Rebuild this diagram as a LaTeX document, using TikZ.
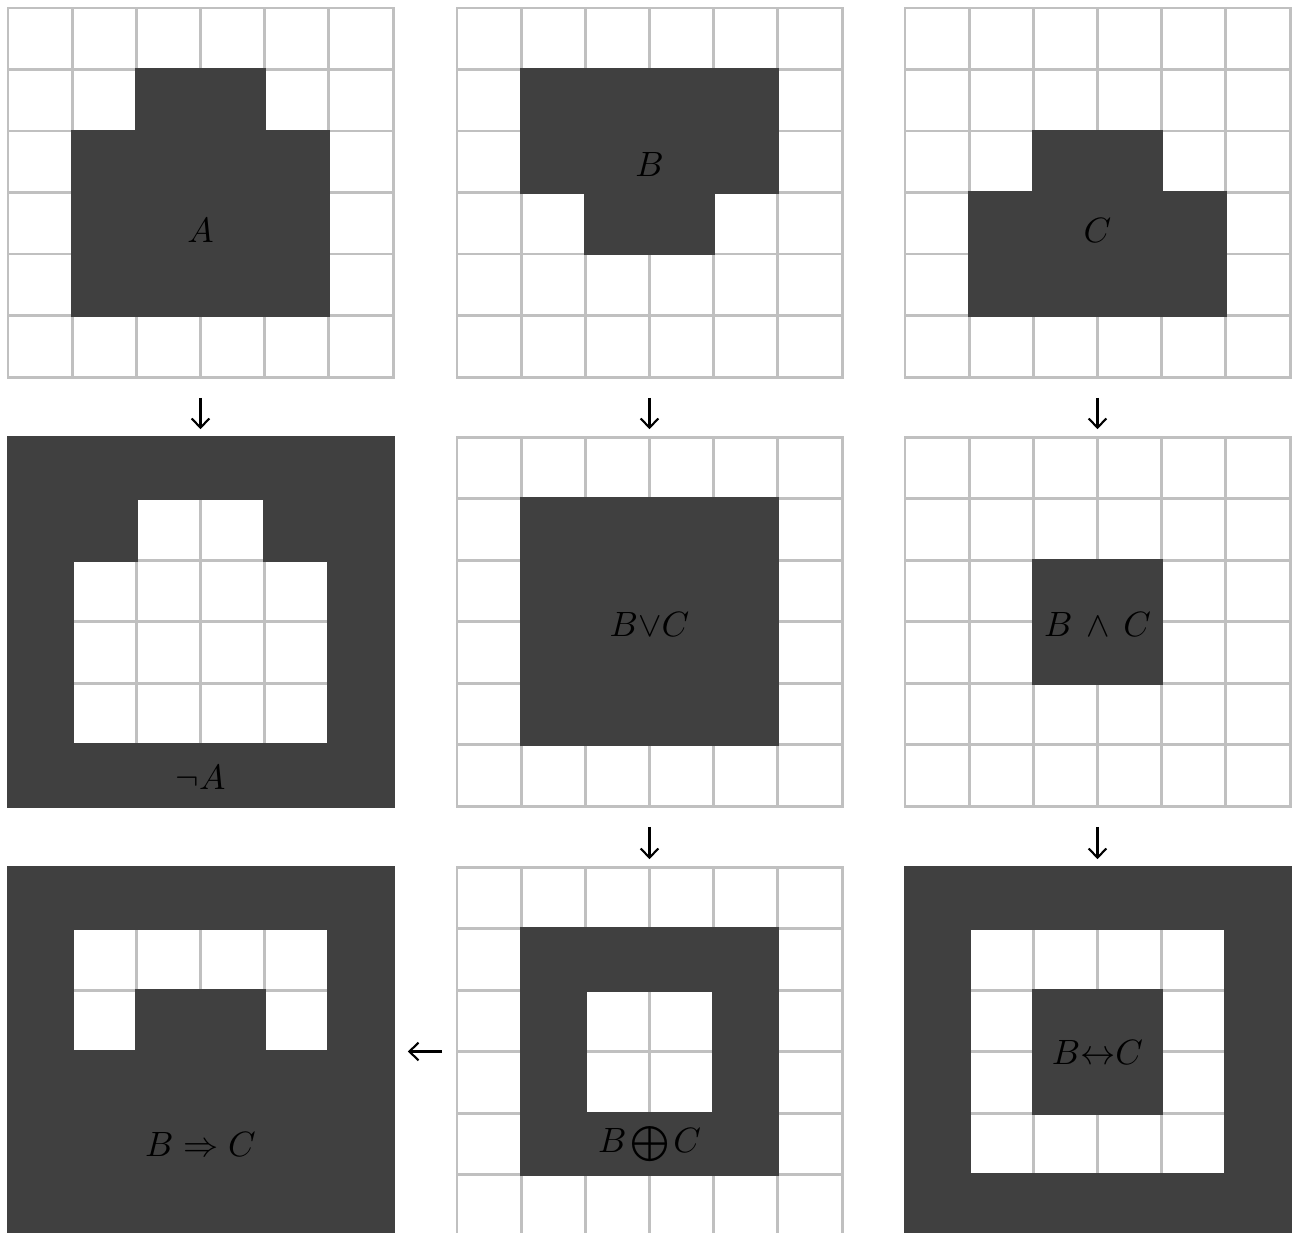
\documentclass[tikz,border=0pt]{standalone}
\usepackage{amsmath,amssymb}
\usepackage{tikz}
\usetikzlibrary{positioning, arrows.meta}
\usepackage{xcolor}
\definecolor{cellgray}{RGB}{64, 64, 64}
\definecolor{gridgray}{RGB}{192, 192, 192}

\tikzset{
  gridline/.style={draw=gridgray, line width=0.85pt, line cap=rect},
  darkcell/.style={fill=cellgray, draw=cellgray, line width=0.85pt},
  panelbox/.style={inner sep=0pt, minimum width=3.85cm, minimum height=3.69cm},
  setlabel/.style={text=black, inner sep=1pt, font=\fontsize{10}{12}\selectfont},
  flowarrow/.style={-{Straight Barb[length=2.6pt,width=5pt]}, line width=0.6pt, black},
}

% one 6x6 panel: name, origin x, origin y, dark blocks c1/r1/c2/r2, label, label y
\newcommand{\setpanel}[6]{%
  \begin{scope}[shift={(#2,#3)}]
    \node[panelbox] (#1) at (192.5,184.5) {};
    \foreach \k in {0,...,6} {
      \draw[gridline] ({\k*64.17},0) -- ({\k*64.17},369);
      \draw[gridline] (0,{\k*61.5}) -- (385,{\k*61.5});
    }
    \foreach \ca/\ra/\cb/\rb in {#4} {
      \draw[darkcell] ({\ca*64.17},{\ra*61.5}) rectangle ({\cb*64.17},{\rb*61.5});
    }
    \node[setlabel] (#1-label) at (192.5,#6) {#5};
  \end{scope}}

\begin{document}
\begin{tikzpicture}[x=0.01cm, y=-0.01cm]
  \useasboundingbox (0,0) rectangle (1296,1233);
  \clip (0,0) rectangle (1296,1233);

  % first row: the three sets
  \setpanel{pA}{8}{8}{2/1/4/2, 1/2/5/5}{$A$}{222}
  \setpanel{pB}{457}{8}{1/1/5/3, 2/3/4/4}{$B$}{156}
  \setpanel{pC}{905}{8}{2/2/4/3, 1/3/5/5}{$C$}{222}

  % second row
  \setpanel{pNotA}{8}{437}{0/0/6/1, 0/1/2/2, 4/1/6/2, 0/2/1/5, 5/2/6/5, 0/5/6/6}{$\neg A$}{340}
  \setpanel{pOr}{457}{437}{1/1/5/5}{$B{\vee}C$}{187}
  \setpanel{pAnd}{905}{437}{2/2/4/4}{$B\,\wedge\,C$}{187}

  % third row
  \setpanel{pImp}{8}{867}{0/0/6/1, 0/1/1/3, 5/1/6/3, 2/2/4/3, 0/3/6/6}{$B\Rightarrow C$}{277}
  \setpanel{pXor}{457}{867}{1/1/5/2, 1/4/5/5, 1/2/2/4, 4/2/5/4}{$B\mkern2mu{\bigoplus}\mkern2mu C$}{277}
  \setpanel{pIff}{905}{867}{0/0/6/1, 0/5/6/6, 0/1/1/5, 5/1/6/5, 2/2/4/4}{$B{\leftrightarrow}C$}{185}

  % arrows between panels
  \draw[flowarrow, shorten <=0.2cm, shorten >=0.07cm] (pA) -- (pNotA);
  \draw[flowarrow, shorten <=0.2cm, shorten >=0.07cm] (pB) -- (pOr);
  \draw[flowarrow, shorten <=0.2cm, shorten >=0.07cm] (pC) -- (pAnd);
  \draw[flowarrow, shorten <=0.2cm, shorten >=0.07cm] (pOr) -- (pXor);
  \draw[flowarrow, shorten <=0.2cm, shorten >=0.07cm] (pAnd) -- (pIff);
  \draw[flowarrow, shorten <=0.14cm, shorten >=0.14cm] (pXor) -- (pImp);
\end{tikzpicture}
\end{document}
